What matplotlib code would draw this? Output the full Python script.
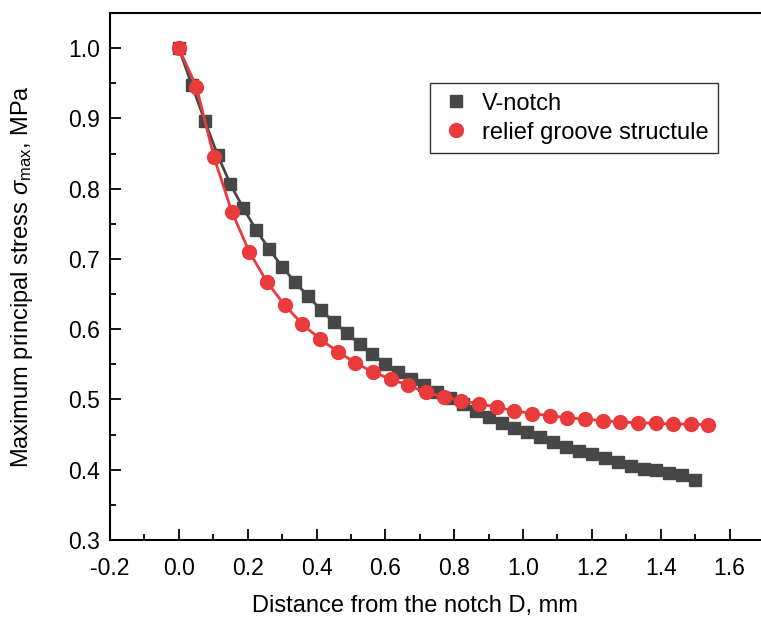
import matplotlib
matplotlib.use("Agg")
import matplotlib.pyplot as plt
from matplotlib.ticker import MultipleLocator

# V-notch data (distance mm, max principal stress MPa)
vnotch_x = [0.0, 0.0375, 0.075, 0.1125, 0.15, 0.1875, 0.225, 0.2625, 0.3, 0.3375,
            0.375, 0.4125, 0.45, 0.4875, 0.525, 0.5625, 0.6, 0.6375, 0.675, 0.7125,
            0.75, 0.7875, 0.825, 0.8625, 0.9, 0.9375, 0.975, 1.0125, 1.05, 1.0875,
            1.125, 1.1625, 1.2, 1.2375, 1.275, 1.3125, 1.35, 1.3875, 1.425, 1.4625, 1.5]
vnotch_y = [1.000, 0.948, 0.897, 0.848, 0.806, 0.772, 0.741, 0.714, 0.689, 0.667,
            0.647, 0.628, 0.610, 0.595, 0.579, 0.564, 0.551, 0.539, 0.529, 0.520,
            0.511, 0.502, 0.494, 0.484, 0.475, 0.466, 0.459, 0.453, 0.446, 0.439,
            0.433, 0.427, 0.422, 0.416, 0.411, 0.406, 0.401, 0.399, 0.395, 0.392, 0.385]

# relief groove data
groove_x = [0.0, 0.051, 0.102, 0.154, 0.205, 0.256, 0.308, 0.359, 0.410, 0.462,
            0.513, 0.564, 0.615, 0.667, 0.718, 0.769, 0.821, 0.872, 0.923, 0.974,
            1.026, 1.077, 1.128, 1.179, 1.231, 1.282, 1.333, 1.385, 1.436, 1.487, 1.538]
groove_y = [1.000, 0.945, 0.845, 0.767, 0.710, 0.667, 0.634, 0.607, 0.586, 0.568,
            0.552, 0.539, 0.529, 0.520, 0.510, 0.504, 0.498, 0.494, 0.489, 0.484,
            0.480, 0.477, 0.474, 0.472, 0.470, 0.468, 0.467, 0.466, 0.465, 0.465, 0.464]

plt.rcParams['font.family'] = ['Liberation Sans', 'DejaVu Sans']
plt.rcParams['axes.unicode_minus'] = False
plt.rcParams['mathtext.fontset'] = 'custom'
plt.rcParams['mathtext.rm'] = 'Liberation Sans'
plt.rcParams['mathtext.it'] = 'Liberation Sans:italic'

gray = '#474747'
red = '#e93a3c'

fig = plt.figure(figsize=(7.61, 6.18), dpi=100)
ax = fig.add_axes([110 / 761, 1 - 540 / 618, 654 / 761, 527 / 618])

ax.plot(vnotch_x, vnotch_y, color=gray, lw=2, zorder=2)
ax.plot(vnotch_x, vnotch_y, 's', color=gray, ms=8, zorder=3, label='V-notch')
ax.plot(groove_x, groove_y, color=red, lw=2, zorder=4)
ax.plot(groove_x, groove_y, 'o', color=red, ms=10, zorder=5, label='relief groove structule')

ax.set_xlim(-0.2, 1.7)
ax.set_ylim(0.3, 1.05)
ax.xaxis.set_major_locator(MultipleLocator(0.2))
ax.xaxis.set_minor_locator(MultipleLocator(0.1))
ax.yaxis.set_major_locator(MultipleLocator(0.1))
ax.yaxis.set_minor_locator(MultipleLocator(0.05))
ax.tick_params(which='both', direction='in', labelsize=16.5, width=1.3)
ax.tick_params(which='major', length=8)
ax.tick_params(axis='x', which='major', pad=12)
ax.tick_params(axis='y', which='major', pad=7)
ax.tick_params(which='minor', length=4)
for s in ax.spines.values():
    s.set_linewidth(1.5)

ax.set_xlabel('Distance from the notch D, mm', fontsize=17, labelpad=11)
ax.xaxis.label.set_x(0.466)
ax.set_ylabel(r'Maximum principal stress $\mathit{\sigma}_{\rm max}$, MPa', fontsize=17, labelpad=24)

leg = ax.legend(loc='upper left', bbox_to_anchor=(0.489, 0.867), borderaxespad=0,
                fontsize=17, frameon=True, fancybox=False, edgecolor='black',
                handletextpad=0.4, handlelength=1.4, borderpad=0.4, labelspacing=0.3)
leg.get_frame().set_linewidth(1.0)

fig.savefig('out.png', dpi=100)
